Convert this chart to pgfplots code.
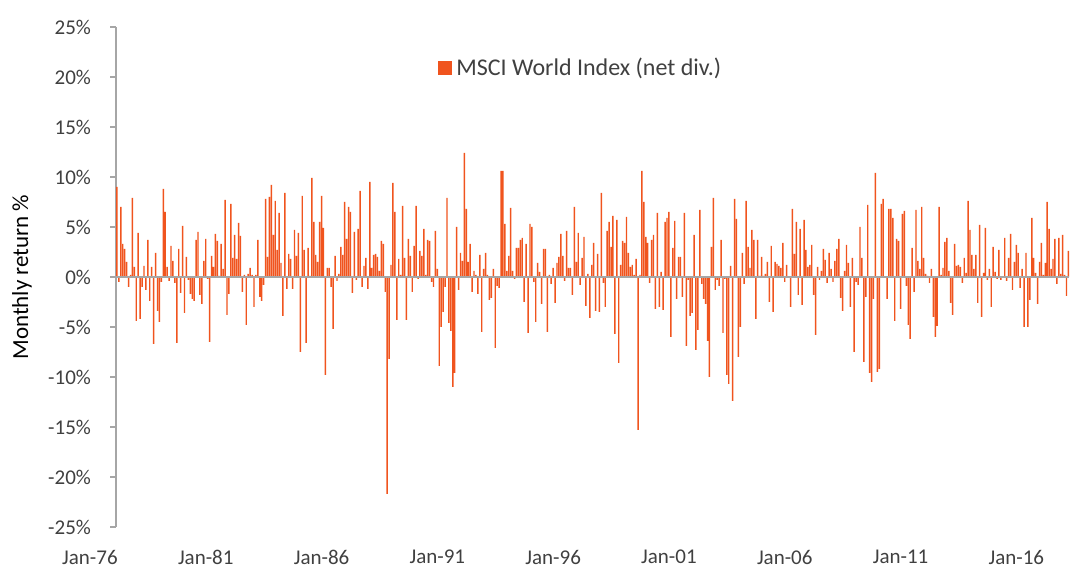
\documentclass[border=0pt]{standalone}
\usepackage{fontspec}
\setmainfont{Carlito}
\usepackage{pgfplots}
\pgfplotsset{compat=1.18}
\usepackage{pgfplotstable}
\definecolor{barc}{RGB}{240,84,30}
\definecolor{axc}{RGB}{166,166,166}
\definecolor{txt}{RGB}{64,64,64}
% monthly returns (%), Jan 1976 onwards, one value per month
\pgfplotstableread[row sep=\\]{
r\\
9.0\\ -0.5\\ 7.0\\ 3.3\\ 2.8\\ 1.5\\ -1.0\\ 0.2\\ 7.9\\ 1.0\\ -4.4\\ 4.4\\ -4.2\\ -1.0\\ 1.1\\ -1.3\\ 3.7\\ -2.4\\ 1.0\\ -6.7\\ 2.4\\ -3.4\\ -4.5\\ -0.5\\ 8.8\\ 6.5\\ 1.0\\ -0.4\\ 3.1\\ 1.6\\ -0.6\\ -6.6\\ 2.8\\ -1.6\\ 5.1\\ -3.6\\ 2.0\\ -0.3\\ -1.7\\ -2.2\\ -2.4\\ 3.7\\
4.5\\ -1.8\\ -2.7\\ 1.6\\ 3.8\\ -0.2\\ -6.5\\ 2.1\\ 1.0\\ 4.3\\ 3.6\\ 0.1\\ 3.3\\ 0.8\\ 7.7\\ -3.8\\ -1.7\\ 7.3\\ 1.9\\ 4.2\\ 1.8\\ 5.4\\ 4.1\\ -1.5\\ 0.2\\ -4.8\\ 0.3\\ 0.9\\ 0.2\\ -3.0\\ 0.2\\ 3.7\\ -2.0\\ -2.4\\ -0.8\\ 7.8\\ 2.0\\ 8.0\\ 9.2\\ 4.2\\ 7.6\\
2.7\\ 6.4\\ 1.4\\ -3.9\\ 8.4\\ -1.2\\ 2.3\\ 1.8\\ -1.2\\ 4.7\\ 2.1\\ 4.4\\ -7.5\\ 8.1\\ 2.7\\ -6.6\\ 2.9\\ 0.1\\ 9.9\\ 5.5\\ 2.2\\ 1.5\\ 5.5\\ 8.1\\ 4.9\\ -9.8\\ 0.9\\ 0.9\\ -1.0\\ -5.2\\ 2.1\\ -0.4\\ 0.3\\ 3.0\\ 2.2\\ 7.5\\ 3.8\\ 7.0\\ 6.5\\ -1.6\\ 4.5\\ -0.3\\ 4.8\\
8.6\\ -1.0\\ 1.1\\ 1.9\\ -1.2\\ 9.5\\ 0.9\\ 2.2\\ 2.3\\ 2.0\\ 0.6\\ 3.6\\ 3.3\\ -1.5\\ -21.7\\ -8.2\\ 1.2\\ 9.4\\ 6.5\\ -4.3\\ 1.8\\ 0.2\\ 7.1\\ 1.9\\ -4.3\\ 3.8\\ 2.1\\ -1.5\\ 3.1\\ 7.1\\ -0.2\\ 2.6\\ 2.1\\ 4.8\\ 0.2\\ 3.7\\ 3.6\\ -0.5\\ -1.0\\ 4.6\\ 0.8\\ -8.9\\
-5.0\\ -3.5\\ -1.0\\ 7.9\\ -4.6\\ -5.4\\ -11.0\\ -9.6\\ 5.0\\ -1.3\\ 2.4\\ 1.6\\ 12.4\\ 6.8\\ 1.5\\ 3.3\\ -1.5\\ 0.6\\ 0.2\\ -1.7\\ 2.2\\ -5.5\\ 0.8\\ 2.4\\ 0.2\\ -2.3\\ -2.1\\ 0.8\\ -7.1\\ -0.9\\ -1.1\\ 10.6\\ 10.6\\ 5.3\\ 0.6\\ 2.1\\ 6.9\\ 0.6\\ -0.2\\ 2.9\\ 2.9\\ 3.7\\
3.9\\ -2.5\\ 3.3\\ -5.6\\ 5.3\\ 5.0\\ -0.5\\ -4.5\\ 1.4\\ 0.5\\ -2.7\\ 2.8\\ 2.8\\ -5.5\\ 0.2\\ -0.7\\ 0.9\\ -2.6\\ 1.4\\ 2.0\\ 4.3\\ 2.1\\ -0.4\\ 4.6\\ 0.9\\ 0.9\\ -1.8\\ 7.0\\ 1.5\\ 4.4\\ -0.8\\ 1.9\\ 4.0\\ -2.9\\ 0.3\\ -4.1\\ 1.2\\ 3.4\\ -3.4\\ 2.3\\
-3.5\\ 8.4\\ -0.6\\ -3.0\\ 4.6\\ 5.5\\ 3.0\\ 6.1\\ -5.7\\ 5.7\\ -8.6\\ 1.2\\ 3.6\\ 3.4\\ 6.0\\ 2.4\\ 1.0\\ 1.2\\ 0.2\\ 1.8\\ -15.3\\ 0.2\\ 10.6\\ 7.5\\ 4.0\\ 3.4\\ -0.6\\ 3.7\\ 4.2\\ -3.2\\ 6.4\\ -3.0\\ 0.5\\ -3.3\\ 5.5\\ 5.9\\ 6.5\\ -6.0\\ 2.9\\ 5.6\\ -2.2\\ 2.0\\
2.0\\ -2.0\\ 6.4\\ -6.9\\ -0.3\\ -3.9\\ -3.6\\ 4.2\\ -7.3\\ -5.3\\ 6.7\\ -0.7\\ -2.2\\ -2.7\\ -6.4\\ -10.0\\ 3.0\\ 7.9\\ -1.3\\ -0.3\\ -0.9\\ 3.7\\ -5.6\\ -0.2\\ -9.8\\ -10.7\\ 1.1\\ -12.4\\ 7.8\\ 5.8\\ -8.0\\ -5.0\\ 2.4\\ -0.7\\ 7.6\\ 3.0\\ 0.9\\ 4.7\\ 3.7\\ -4.2\\ 3.7\\
0.1\\ 2.0\\ 0.1\\ 0.3\\ 1.5\\ -2.5\\ 3.1\\ -3.5\\ 1.5\\ 1.3\\ 1.1\\ 0.9\\ 3.4\\ -0.5\\ 1.2\\ -0.1\\ -3.0\\ 6.8\\ 2.3\\ 5.5\\ -1.8\\ 4.8\\ -2.8\\ 5.7\\ 2.7\\ 1.0\\ 1.2\\ 3.2\\ -1.8\\ -5.8\\ 1.0\\ -0.3\\ 0.6\\ 2.8\\ 1.7\\ -0.6\\ 2.4\\ 0.8\\ -0.5\\ 1.6\\ 2.8\\ 3.8\\
-2.1\\ -3.4\\ 0.6\\ 3.2\\ 1.4\\ -3.0\\ 1.9\\ -7.5\\ -0.5\\ -0.8\\ 5.0\\ 1.9\\ -8.5\\ -2.0\\ 7.2\\ -9.6\\ -10.5\\ -2.2\\ 10.4\\ -9.5\\ -9.2\\ 7.3\\ 7.8\\ -0.1\\ -2.2\\ 6.8\\ 6.8\\ 5.9\\ -4.4\\ 3.8\\ 3.6\\ -3.2\\ 6.3\\ 6.6\\ -0.9\\ -4.8\\ -6.2\\ 2.9\\ -1.5\\ 6.7\\ 1.6\\
0.8\\ 7.0\\ 1.9\\ 0.3\\ 0.1\\ -0.6\\ 0.8\\ -4.0\\ -6.0\\ -4.9\\ 7.0\\ 0.2\\ 0.9\\ 3.5\\ 3.9\\ 0.6\\ -2.6\\ -3.8\\ 3.3\\ 1.1\\ 1.2\\ 1.0\\ -0.6\\ 1.9\\ 0.4\\ 7.6\\ 4.7\\ 2.2\\ 0.8\\ 2.2\\ -2.6\\ 5.2\\ -4.0\\ 0.4\\ 4.9\\ -0.3\\ 0.8\\ -3.0\\ 3.0\\ 0.5\\
-0.2\\ 2.7\\ -0.3\\ -0.1\\ 3.9\\ -0.4\\ 1.9\\ 4.3\\ -1.3\\ 1.5\\ 3.2\\ 2.4\\ -1.1\\ 0.8\\ -5.0\\ 2.4\\ -5.0\\ -2.3\\ 5.9\\ 1.9\\ 0.4\\ -2.7\\ 1.5\\ 3.4\\ 0.2\\ 1.4\\ 7.5\\ 4.8\\ 0.8\\ 1.8\\ 3.8\\ -0.7\\ 3.9\\ 0.3\\ 4.2\\ 0.2\\ -1.9\\ 2.6\\
}\msci

\begin{document}
\begin{tikzpicture}
\useasboundingbox (-58pt,-20pt) rectangle (477pt,263.5pt);
\begin{axis}[
  at={(0,0)}, anchor=south west,
  scale only axis, width=476.7pt, height=250pt,
  xmin=-0.5, xmax=493.5, ymin=-25, ymax=25,
  axis lines*=left,
  x axis line style={draw=none},
  y axis line style={draw=axc, line width=0.75pt},
  xtick={0,60,...,480},
  xticklabels={Jan-76,Jan-81,Jan-86,Jan-91,Jan-96,Jan-01,Jan-06,Jan-11,Jan-16},
  xtick style={draw=none},
  xticklabel style={xshift=-13.5pt, yshift=-5pt, font=\fontsize{10.5}{12}\selectfont, text=txt},
  ytick={-25,-20,...,25},
  yticklabel={\pgfmathprintnumber{\tick}\%},
  ytick style={draw=axc, line width=0.75pt},
  tick align=outside, major tick length=3pt,
  yticklabel style={font=\fontsize{10.5}{12}\selectfont, text=txt, xshift=-6pt},
  /pgf/number format/assume math mode=true,
  ylabel={Monthly return \%},
  every axis y label/.style={at={(rel axis cs:-0.0986,0.5)}, rotate=90, anchor=center, font=\fontsize{11.5}{13}\selectfont, text=black},
  legend style={at={(rel axis cs:0.3377,0.918)}, anchor=west, draw=none, fill=none, inner sep=0pt, font=\fontsize{12}{14}\selectfont, text=txt},
  legend image code/.code={\fill[barc] (0pt,-3.5pt) rectangle (7pt,3.5pt);},
]
\addplot[ybar, bar width=0.75, fill=barc, draw=none] table[x expr=\coordindex, y=r] {\msci};
\addlegendentry{MSCI World Index (net div.)}
\draw[axc, line width=1pt] (axis cs:-0.5,0) -- (axis cs:493.5,0);
\end{axis}
\end{tikzpicture}
\end{document}
